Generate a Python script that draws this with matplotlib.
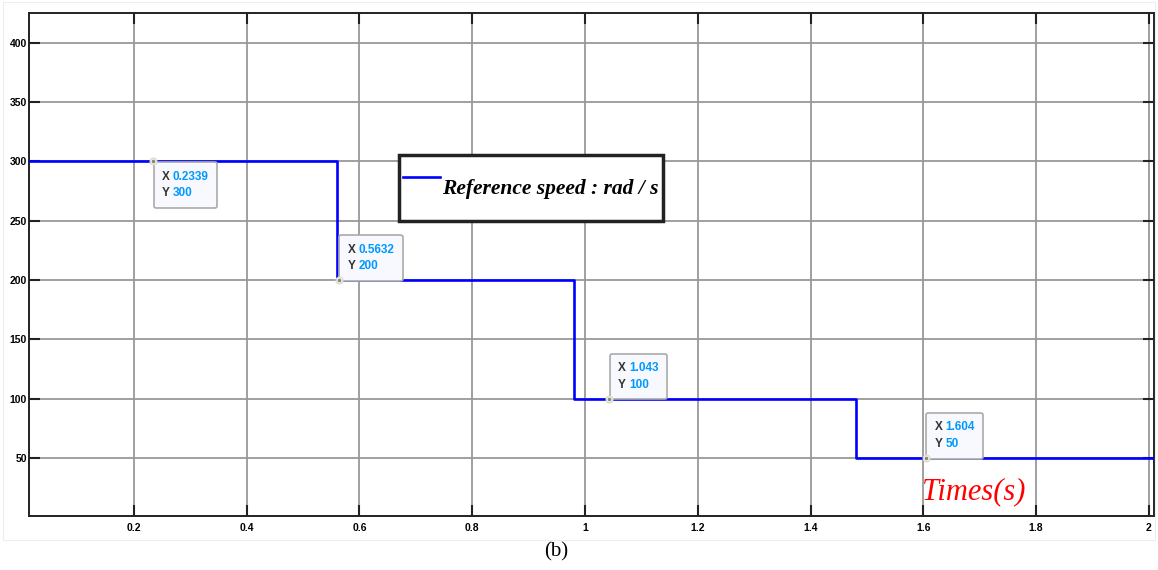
import matplotlib.pyplot as plt
from matplotlib.offsetbox import TextArea, HPacker, VPacker, AnnotationBbox
from matplotlib.patches import Rectangle

# Step reference speed profile
t_edges = [0.014, 0.56, 0.98, 1.48, 2.01]
speed = [300, 200, 100, 50, 50]

# data tips shown on the curve
tip_x = [0.2339, 0.5632, 1.043, 1.604]
tip_y = [300, 200, 100, 50]
tip_xlabel = ['0.2339', '0.5632', '1.043', '1.604']
tip_ylabel = ['300', '200', '100', '50']
tip_below = [True, False, False, False]

xticks = [0.2, 0.4, 0.6, 0.8, 1.0, 1.2, 1.4, 1.6, 1.8, 2.0]
xticklabels = ['0.2', '0.4', '0.6', '0.8', '1', '1.2', '1.4', '1.6', '1.8', '2']
yticks = [50, 100, 150, 200, 250, 300, 350, 400]

fig = plt.figure(figsize=(11.58, 5.7), dpi=100)
fig.patches.append(Rectangle((0.003, 0.053), 0.994, 0.943, transform=fig.transFigure,
                             fill=False, edgecolor='#eeeeee', linewidth=0.8))
ax = fig.add_axes([0.025, 0.0947, 0.9715, 0.882])

ax.plot(t_edges, speed, drawstyle='steps-post', color='#0000ff', linewidth=1.9,
        label='Reference speed : rad / s', zorder=3)

ax.set_xlim(0.014, 2.009)
ax.set_ylim(1, 425)
ax.set_xticks(xticks)
ax.set_xticklabels(xticklabels)
ax.set_yticks(yticks)
ax.grid(True, color='#999999', linewidth=1.3)
ax.tick_params(direction='in', length=8, width=1.5, color='#222222', labelsize=7.5,
               top=True, right=True)
ax.tick_params(axis='x', pad=5)
ax.tick_params(axis='y', pad=1.5)
for lab in ax.get_xticklabels() + ax.get_yticklabels():
    lab.set_fontweight('bold')
    lab.set_fontfamily('Liberation Sans')
for s in ax.spines.values():
    s.set_color('#222222')
    s.set_linewidth(1.4)

# data tips
fp_k = dict(color='#333333', fontsize=8.5, fontweight='bold', family='Liberation Sans')
fp_b = dict(color='#0099ff', fontsize=8.5, fontweight='bold', family='Liberation Sans')
for x, y, xl, yl, below in zip(tip_x, tip_y, tip_xlabel, tip_ylabel, tip_below):
    row1 = HPacker(children=[TextArea('X', textprops=fp_k), TextArea(xl, textprops=fp_b)],
                   pad=0, sep=2)
    row2 = HPacker(children=[TextArea('Y', textprops=fp_k), TextArea(yl, textprops=fp_b)],
                   pad=0, sep=2)
    box = VPacker(children=[row1, row2], pad=0, sep=3.5, align='left')
    if below:
        off, align = (6.5, -6.5), (0, 1)
    else:
        off, align = (6.5, 5.5), (0, 0)
    ab = AnnotationBbox(box, (x, y), xybox=off, xycoords='data',
                        boxcoords='offset points', box_alignment=align, pad=0.6,
                        frameon=True, zorder=6,
                        bboxprops=dict(boxstyle='round,pad=0.6,rounding_size=0.15',
                                       facecolor='#f8f8ff', edgecolor='#aaaaaa', linewidth=1.2))
    ax.add_artist(ab)
    ax.plot(x, y, 'o', markersize=5, markerfacecolor='#f7f7e6', markeredgecolor='#d8d8c8',
            markeredgewidth=0.8, zorder=7)
    ax.plot(x, y, 'o', markersize=1.6, color='#888888', zorder=8)

leg = ax.legend(loc='upper left', bbox_to_anchor=(0.329, 0.718), borderaxespad=0,
                fancybox=False, framealpha=1, edgecolor='#222222', handlelength=1.7,
                handletextpad=0.1, borderpad=0.2, handleheight=3.75,
                prop=dict(family='Liberation Serif', style='italic', weight='bold', size=15.5))
leg.get_frame().set_linewidth(2.5)

ax.text(1.598, 15, 'Times(s)', color='red', fontsize=22, style='italic',
        family='Liberation Serif', ha='left', va='baseline')

fig.text(0.48, 0.015, '(b)', fontsize=15, family='Liberation Serif', ha='center', va='bottom')

fig.savefig('out.png', dpi=100)
